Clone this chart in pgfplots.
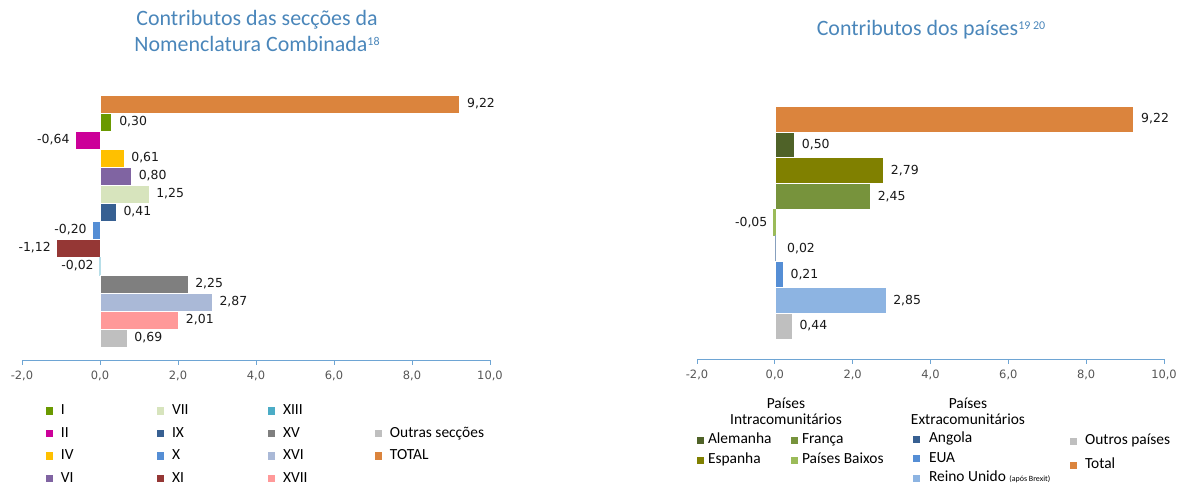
\documentclass[border=0pt]{standalone}
\usepackage{pgfplots}
\pgfplotsset{compat=1.18}
\usepackage{fontspec}
\setmainfont{Carlito}
\newfontfamily\labfont{DejaVu Sans}
\definecolor{axisblue}{RGB}{110,165,212}
\definecolor{tickgray}{RGB}{85,85,85}
\definecolor{titleblue}{RGB}{74,134,186}
\definecolor{cTotal}{RGB}{219,132,61}
\definecolor{cI}{RGB}{106,153,0}
\definecolor{cII}{RGB}{204,0,153}
\definecolor{cIV}{RGB}{255,192,0}
\definecolor{cVI}{RGB}{128,100,162}
\definecolor{cVII}{RGB}{215,228,189}
\definecolor{cIX}{RGB}{55,96,146}
\definecolor{cX}{RGB}{85,142,213}
\definecolor{cXI}{RGB}{149,55,53}
\definecolor{cXIII}{RGB}{75,172,198}
\definecolor{cXV}{RGB}{127,127,127}
\definecolor{cXVI}{RGB}{170,185,215}
\definecolor{cXVII}{RGB}{255,153,153}
\definecolor{cOut}{RGB}{191,191,191}
\definecolor{cAle}{RGB}{79,98,40}
\definecolor{cEsp}{RGB}{128,128,0}
\definecolor{cFra}{RGB}{119,147,60}
\definecolor{cPB}{RGB}{155,187,89}
\definecolor{cAng}{RGB}{55,96,146}
\definecolor{cEUA}{RGB}{85,142,213}
\definecolor{cRU}{RGB}{141,180,226}
\pgfplotsset{
  barax/.style={
    anchor=south west, scale only axis, clip=false,
    xmin=-2, xmax=10,
    axis x line*=bottom, axis y line=none,
    x axis line style={draw=axisblue, line width=0.8pt},
    xtick={-2,0,...,10}, tick align=outside, major tick length=5bp,
    xtick style={draw=axisblue, line width=0.8pt},
    xticklabel style={font=\labfont\fontsize{11.5}{12}\selectfont, text=tickgray, yshift=-2bp},
    xticklabel={\pgfmathprintnumber[fixed,fixed zerofill,precision=1,use comma,assume math mode=true]{\tick}},
    xbar, bar width=1, bar shift=0pt,
    point meta=x,
    nodes near coords={\pgfmathprintnumber[fixed,fixed zerofill,precision=2,use comma,assume math mode=true]{\pgfplotspointmeta}},
    nodes near coords style={font=\labfont\fontsize{12.5}{14}\selectfont, text=black!90, anchor=west, xshift=4bp},
    every axis plot/.append style={draw=white, line width=0.5pt},
  },
  neg/.style={every node near coord/.append style={anchor=east, xshift=-6bp}},
  legax/.style={
    at={(0,0)}, anchor=south west, scale only axis,
    width=1179bp, height=486bp, xmin=0, xmax=1179, ymin=0, ymax=486,
    hide axis,
    legend cell align=left,
    legend image code/.code={\fill[##1, draw=none] (0bp,-3.5bp) rectangle (7bp,3.5bp);},
    legend style={draw=none, fill=none, inner sep=0pt, outer sep=0pt,
      anchor=north west, font=\fontsize{15.5}{17}\selectfont,
      nodes={inner sep=0pt, outer sep=0pt, text height=10bp, text depth=3bp},
      /tikz/every odd column/.append style={column sep=8bp}},
  },
}
\begin{document}
\begin{tikzpicture}
\useasboundingbox (0,0) rectangle (1179bp,486bp);
% ---------- Titles
\node[font=\fontsize{22}{26}\selectfont, text=titleblue, align=center] at (257bp,455bp)
  {Contributos das secções da\\Nomenclatura Combinada{\fontsize{12}{12}\selectfont\raisebox{1.1ex}{18}}};
\node[font=\fontsize{22}{26}\selectfont, text=titleblue] at (931bp,456bp)
  {Contributos dos países{\fontsize{12}{12}\selectfont\raisebox{1.1ex}{19 20}}};
% ---------- Left chart
\begin{axis}[barax, at={(22bp,126bp)}, width=468bp, height=274bp, ymin=-0.222, ymax=15]
\addplot[fill=cTotal] coordinates {(9.22,14)};
\addplot[fill=cI] coordinates {(0.30,13)};
\addplot[fill=cII, neg] coordinates {(-0.64,12)};
\addplot[fill=cIV] coordinates {(0.61,11)};
\addplot[fill=cVI] coordinates {(0.80,10)};
\addplot[fill=cVII] coordinates {(1.25,9)};
\addplot[fill=cIX] coordinates {(0.41,8)};
\addplot[fill=cX, neg] coordinates {(-0.20,7)};
\addplot[fill=cXI, neg] coordinates {(-1.12,6)};
\addplot[fill=cXIII, draw=cXIII!40, neg] coordinates {(-0.02,5)};
\addplot[fill=cXV] coordinates {(2.25,4)};
\addplot[fill=cXVI] coordinates {(2.87,3)};
\addplot[fill=cXVII] coordinates {(2.01,2)};
\addplot[fill=cOut] coordinates {(0.69,1)};
\end{axis}
% ---------- Right chart
\begin{axis}[barax, at={(697bp,127bp)}, width=467bp, height=266bp, ymin=-0.274, ymax=10]
\addplot[fill=cTotal] coordinates {(9.22,9)};
\addplot[fill=cAle] coordinates {(0.50,8)};
\addplot[fill=cEsp] coordinates {(2.79,7)};
\addplot[fill=cFra] coordinates {(2.45,6)};
\addplot[fill=cPB, draw=cPB, neg] coordinates {(-0.05,5)};
\addplot[fill=cAng, draw=cAng!60, every node near coord/.append style={xshift=4bp}] coordinates {(0.02,4)};
\addplot[fill=cEUA] coordinates {(0.21,3)};
\addplot[fill=cRU] coordinates {(2.85,2)};
\addplot[fill=cOut] coordinates {(0.44,1)};
\end{axis}
% ---------- Left legends
\begin{axis}[legax, legend style={at={({46/1179},{81.5/486})}, row sep=9.5bp}]
\addlegendimage{fill=cI}\addlegendentry{I}
\addlegendimage{fill=cII}\addlegendentry{II}
\addlegendimage{fill=cIV}\addlegendentry{IV}
\addlegendimage{fill=cVI}\addlegendentry{VI}
\end{axis}
\begin{axis}[legax, legend style={at={({157/1179},{81.5/486})}, row sep=9.5bp}]
\addlegendimage{fill=cVII}\addlegendentry{VII}
\addlegendimage{fill=cIX}\addlegendentry{IX}
\addlegendimage{fill=cX}\addlegendentry{X}
\addlegendimage{fill=cXI}\addlegendentry{XI}
\end{axis}
\begin{axis}[legax, legend style={at={({268/1179},{81.5/486})}, row sep=9.5bp}]
\addlegendimage{fill=cXIII}\addlegendentry{XIII}
\addlegendimage{fill=cXV}\addlegendentry{XV}
\addlegendimage{fill=cXVI}\addlegendentry{XVI}
\addlegendimage{fill=cXVII}\addlegendentry{XVII}
\end{axis}
\begin{axis}[legax, legend style={at={({375/1179},{59/486})}, row sep=9.5bp}]
\addlegendimage{fill=cOut}\addlegendentry{Outras secções}
\addlegendimage{fill=cTotal}\addlegendentry{TOTAL}
\end{axis}
% ---------- Right legends
\node[font=\fontsize{15.5}{17}\selectfont, align=center] at (786bp,75bp) {Países\\[-1bp]Intracomunitários};
\node[font=\fontsize{15.5}{17}\selectfont, align=center] at (968bp,75bp) {Países\\[-1bp]Extracomunitários};
\begin{axis}[legax, legend columns=2, legend style={at={({697/1179},{52.5/486})}, row sep=7bp,
   /tikz/every odd column/.append style={column sep=4bp},
   /tikz/every even column/.append style={column sep=0bp},
   /tikz/column 2/.style={text width=83bp}}]
\addlegendimage{fill=cAle}\addlegendentry{Alemanha}
\addlegendimage{fill=cFra}\addlegendentry{França}
\addlegendimage{fill=cEsp}\addlegendentry{Espanha}
\addlegendimage{fill=cPB}\addlegendentry{Países Baixos}
\end{axis}
\begin{axis}[legax, legend style={at={({913/1179},{53.5/486})}, row sep=6.5bp,
   /tikz/every odd column/.append style={column sep=9bp}}]
\addlegendimage{fill=cAng}\addlegendentry{Angola}
\addlegendimage{fill=cEUA}\addlegendentry{EUA}
\addlegendimage{fill=cRU}\addlegendentry{Reino Unido {\fontsize{8}{9}\selectfont(após Brexit)}}
\end{axis}
\begin{axis}[legax, legend style={at={({1070/1179},{51.5/486})}, row sep=11bp,
   /tikz/every odd column/.append style={column sep=8bp}}]
\addlegendimage{fill=cOut}\addlegendentry{Outros países}
\addlegendimage{fill=cTotal}\addlegendentry{Total}
\end{axis}
\end{tikzpicture}
\end{document}
